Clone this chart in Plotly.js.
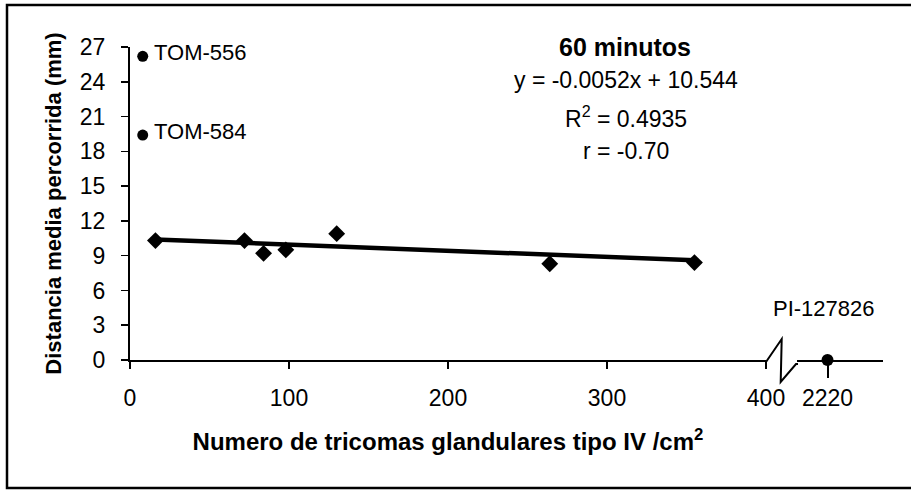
<!DOCTYPE html>
<html>
<head>
<meta charset="utf-8">
<script src="https://cdn.plot.ly/plotly-3.0.1.min.js"></script>
<style>html,body{margin:0;padding:0;background:#fff;}#chart{width:911px;height:490px;}</style>
</head>
<body>
<div id="chart"></div>
<script>
// ---- data ----
const trichomeX = [16, 72, 84, 98, 130, 264, 355];
const distanceY = [10.3, 10.3, 9.2, 9.5, 10.9, 8.3, 8.4];
const outlierNames = ["TOM-556", "TOM-584"];
const outlierX = [8, 8];
const outlierY = [26.2, 19.4];
const brokenName = ["PI-127826"];
const brokenX = [2220];
const brokenY = [0];
const trendX = [16, 355];
const trendY = [10.4, 8.6];
const yTicks = [0, 3, 6, 9, 12, 15, 18, 21, 24, 27];
const xTicks = [0, 100, 200, 300, 400];
const titleText = "60 minutos";
const statLines = ["y = -0.0052x + 10.544", "R<sup>2</sup> = 0.4935", "r = -0.70"];

const FONT = "Liberation Sans, Arial, sans-serif";
const L = 130, R = 28, T = 47, B = 130;
const W = 911 - L - R, H = 490 - T - B;
const px = v => (v - L) / W;
const py = v => (490 - B - v) / H;

const traces = [
  {x: trendX, y: trendY, mode: "lines", type: "scatter", line: {color: "#000", width: 4.5}, hoverinfo: "skip"},
  {x: trichomeX, y: distanceY, mode: "markers", type: "scatter", marker: {symbol: "diamond", size: 13, color: "#000"}, cliponaxis: false},
  {x: outlierX, y: outlierY, mode: "markers", type: "scatter", marker: {symbol: "circle", size: 11, color: "#000"}, cliponaxis: false},
  {x: brokenX, y: brokenY, xaxis: "x2", mode: "markers", type: "scatter", marker: {symbol: "circle", size: 12, color: "#000"}, cliponaxis: false}
];

const annotations = [];
outlierNames.forEach((n, i) => annotations.push({
  x: outlierX[i], y: outlierY[i], xref: "x", yref: "y", text: n, showarrow: false,
  xanchor: "left", yanchor: "middle", xshift: 9, yshift: 4,
  font: {family: FONT, size: 22, color: "#000"}
}));
annotations.push({
  x: brokenX[0], y: brokenY[0], xref: "x2", yref: "y", text: brokenName[0], showarrow: false,
  xanchor: "center", yanchor: "middle", xshift: -4, yshift: 52,
  font: {family: FONT, size: 22, color: "#000"}
});
annotations.push({x: px(625), y: py(47), xref: "paper", yref: "paper", text: "<b>" + titleText + "</b>",
  showarrow: false, xanchor: "center", yanchor: "middle", font: {family: FONT, size: 25, color: "#000"}});
const statY = [80, 117, 151];
statLines.forEach((s, i) => annotations.push({x: px(626), y: py(statY[i]), xref: "paper", yref: "paper", text: s,
  showarrow: false, xanchor: "center", yanchor: "middle", font: {family: FONT, size: 23, color: "#000"}}));

const shapes = [
  {type: "path", xref: "paper", yref: "paper",
   path: `M ${px(766)} ${py(362)} L ${px(781.7)} ${py(339)} L ${px(780.7)} ${py(382)} L ${px(796)} ${py(364)} L ${px(798)} ${py(364)}`,
   line: {color: "#000", width: 2}},
  {type: "rect", xref: "paper", yref: "paper", x0: px(7), x1: px(918), y0: py(488), y1: py(5),
   line: {color: "#000", width: 2.5}, fillcolor: "rgba(0,0,0,0)"}
];

const layout = {
  width: 911, height: 490,
  margin: {l: L, r: R, t: T, b: B},
  paper_bgcolor: "#fff", plot_bgcolor: "#fff",
  showlegend: false,
  font: {family: FONT, color: "#000"},
  xaxis: {
    domain: [0, px(766)], range: [0, 400], tickmode: "array", tickvals: xTicks, ticktext: xTicks.map(String),
    showgrid: false, zeroline: false, showline: true, linecolor: "#000", linewidth: 2,
    ticks: "outside", ticklen: 7, tickwidth: 1.5, tickcolor: "#000", ticklabelstandoff: 9,
    tickfont: {family: FONT, size: 23, color: "#000"},
    title: {text: "<b>Numero de tricomas glandulares tipo IV /cm<sup>2</sup></b>", font: {family: FONT, size: 24, color: "#000"}, standoff: 24}
  },
  xaxis2: {
    domain: [px(797), 1], range: [2198, 2260], anchor: "y", tickmode: "array", tickvals: brokenX, ticktext: ["2220"],
    showgrid: false, zeroline: false, showline: true, linecolor: "#000", linewidth: 2,
    ticks: "outside", ticklen: 16, tickwidth: 2, tickcolor: "#000", ticklabelstandoff: 0,
    tickfont: {family: FONT, size: 23, color: "#000"}
  },
  yaxis: {
    range: [0, 27], tickmode: "array", tickvals: yTicks, ticktext: yTicks.map(String),
    showgrid: false, zeroline: false, showline: true, linecolor: "#000", linewidth: 2,
    ticks: "outside", ticklen: 7, tickwidth: 1.5, tickcolor: "#000", ticklabelstandoff: 11,
    tickfont: {family: FONT, size: 23, color: "#000"},
    title: {text: "<b>Distancia media percorrida (mm)</b>", font: {family: FONT, size: 22, color: "#000"}, standoff: 12}
  },
  annotations: annotations,
  shapes: shapes
};

Plotly.newPlot("chart", traces, layout, {displayModeBar: false, staticPlot: true});
</script>
</body>
</html>
